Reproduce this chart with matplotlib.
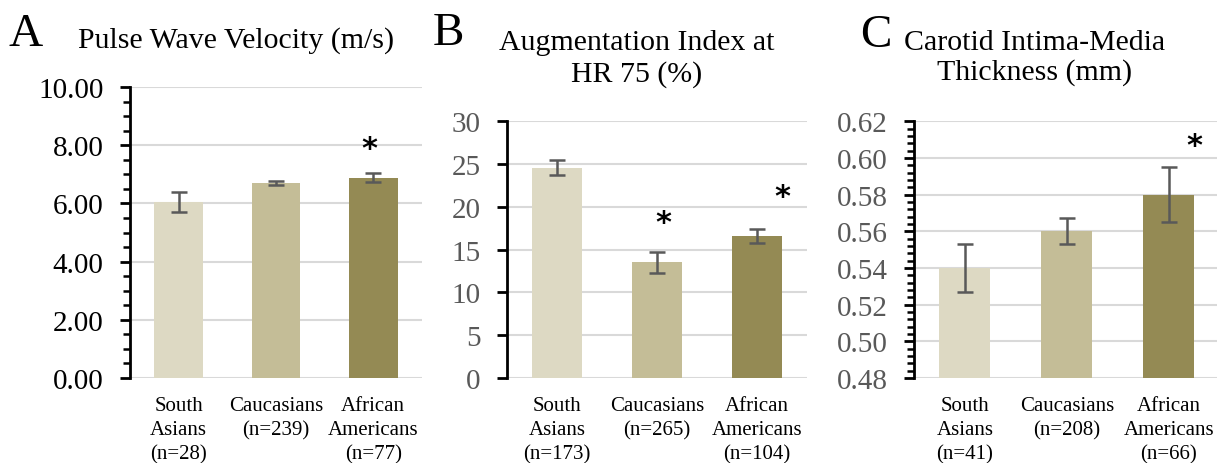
import matplotlib.pyplot as plt
from matplotlib.ticker import MultipleLocator, FormatStrFormatter

plt.rcParams['font.family'] = ['Liberation Serif', 'DejaVu Serif']

# data
groups = ["South Asians", "Caucasians", "African Americans"]
colors = ["#DDD9C3", "#C4BD97", "#948A54"]

pwv_labels = ["South\nAsians\n(n=28)", "Caucasians\n(n=239)\n", "African\nAmericans\n(n=77)"]
pwv_mean = [6.05, 6.70, 6.89]
pwv_err = [0.34, 0.07, 0.16]

aix_labels = ["South\nAsians\n(n=173)", "Caucasians\n(n=265)\n", "African\nAmericans\n(n=104)"]
aix_mean = [24.6, 13.5, 16.6]
aix_err = [0.9, 1.2, 0.85]

cimt_labels = ["South\nAsians\n(n=41)", "Caucasians\n(n=208)\n", "African\nAmericans\n(n=66)"]
cimt_mean = [0.540, 0.560, 0.580]
cimt_err = [0.013, 0.007, 0.015]

# significance stars: (x position in category units, y value)
pwv_stars = [(1.96, 7.87)]
aix_stars = [(1.06, 18.2), (2.25, 21.2)]
cimt_stars = [(2.25, 0.6067)]

fig = plt.figure(figsize=(12.17, 4.64), dpi=100)

axA = fig.add_axes([0.1068, 0.1832, 0.2399, 0.6271])
axB = fig.add_axes([0.4166, 0.1832, 0.2465, 0.5532])
axC = fig.add_axes([0.7510, 0.1832, 0.2514, 0.5532])


def draw_panel(ax, labels, means, errs, stars, ylim, major, minor, fmt, tickcolor):
    x = range(len(means))
    ax.bar(x, means, width=0.5, color=colors, zorder=2)
    ax.errorbar(x, means, yerr=errs, fmt='none', ecolor='#595959',
                elinewidth=1.8, capsize=6, capthick=1.8, zorder=3)
    for sx, sy in stars:
        ax.text(sx, sy, '*', ha='center', va='center', fontsize=22,
                fontweight='bold', family='DejaVu Sans')
    ax.set_xlim(-0.5, 2.5)
    ax.set_ylim(*ylim)
    ax.yaxis.set_major_locator(MultipleLocator(major))
    if minor:
        ax.yaxis.set_minor_locator(MultipleLocator(minor))
    ax.yaxis.set_major_formatter(FormatStrFormatter(fmt))
    ax.grid(axis='y', color='#D9D9D9', linewidth=1.5, zorder=0)
    ax.set_axisbelow(True)
    for s in ['top', 'right', 'bottom']:
        ax.spines[s].set_visible(False)
    ax.spines['left'].set_linewidth(2)
    ax.spines['left'].set_zorder(4)
    ax.tick_params(axis='y', which='major', length=7, width=2,
                   labelsize=21, labelcolor=tickcolor, pad=12)
    ax.tick_params(axis='y', which='minor', length=5, width=1.8)
    ax.set_xticks(list(x))
    ax.set_xticklabels(labels, fontsize=15, linespacing=1.35, va='top')
    ax.tick_params(axis='x', length=0, pad=13)


draw_panel(axA, pwv_labels, pwv_mean, pwv_err, pwv_stars,
           (0, 10), 2, 0.5, '%.2f', 'black')
draw_panel(axB, aix_labels, aix_mean, aix_err, aix_stars,
           (0, 30), 5, None, '%d', '#595959')
draw_panel(axC, cimt_labels, cimt_mean, cimt_err, cimt_stars,
           (0.48, 0.62), 0.02, 0.004, '%.2f', '#595959')

# panel letters and titles
fig.text(0.0066, 0.925, 'A', fontsize=34, va='center', ha='left')
fig.text(0.1940, 0.912, 'Pulse Wave Velocity (m/s)', fontsize=21.5, va='center', ha='center')

fig.text(0.3558, 0.928, 'B', fontsize=34, va='center', ha='left')
fig.text(0.5234, 0.872, 'Augmentation Index at\nHR 75 (%)', fontsize=21.5,
         va='center', ha='center', linespacing=1.25)

fig.text(0.7066, 0.922, 'C', fontsize=34, va='center', ha='left')
fig.text(0.8505, 0.876, 'Carotid Intima-Media\nThickness (mm)', fontsize=21.5,
         va='center', ha='center', linespacing=1.15)

plt.savefig('out.png', dpi=100)
